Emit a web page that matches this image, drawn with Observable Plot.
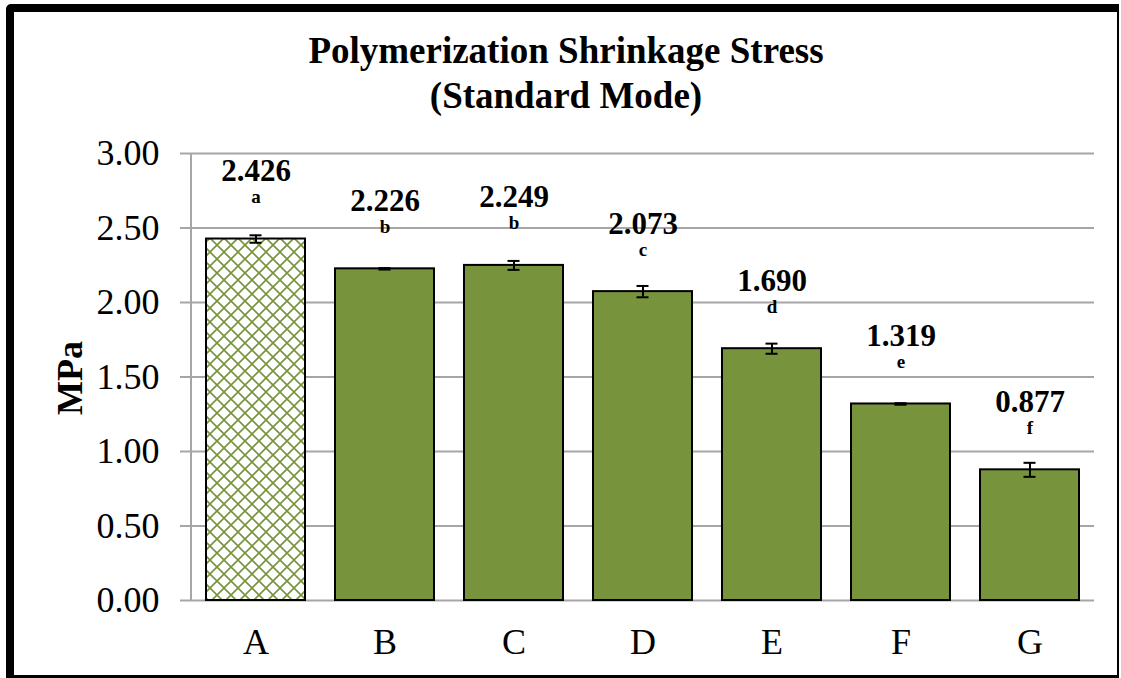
<!DOCTYPE html>
<html>
<head>
<meta charset="utf-8">
<script src="https://cdn.jsdelivr.net/npm/d3@7"></script>
<script src="https://cdn.jsdelivr.net/npm/@observablehq/plot@0.6"></script>
<style>
  html, body { margin: 0; padding: 0; background: #fff; }
  #wrap { position: relative; width: 1121px; height: 678px; overflow: hidden; font-family: "Liberation Serif", "Times New Roman", serif; }
  #chart { position: absolute; left: 0; top: 0; }
  #title { position: absolute; left: 0; top: 28px; width: 1132px; text-align: center; font-weight: bold; font-size: 37px; line-height: 45px; color: #000; }
  #ylabel { position: absolute; left: 70px; top: 378px; transform: translate(-50%, -50%) rotate(-90deg); font-weight: bold; font-size: 36px; white-space: nowrap; color: #000; }
  #border { position: absolute; left: 6px; top: 4px; width: 1113px; height: 674px; box-sizing: border-box; border-style: solid; border-color: #000; border-width: 8px 2px 3px 8px; border-radius: 5px 0 0 0; pointer-events: none; }
</style>
</head>
<body>
<div id="wrap">
  <div id="chart"></div>
  <div id="title">Polymerization Shrinkage Stress<br>(Standard Mode)</div>
  <div id="ylabel">MPa</div>
  <div id="border"></div>
</div>
<script>
const categories = ["A", "B", "C", "D", "E", "F", "G"];
const means = [2.426, 2.226, 2.249, 2.073, 1.690, 1.319, 0.877];
const errors = [0.025, 0.005, 0.03, 0.038, 0.034, 0.005, 0.047];
const groups = ["a", "b", "b", "c", "d", "e", "f"];
const yTicks = [0, 0.5, 1, 1.5, 2, 2.5, 3];

const data = categories.map((c, i) => ({cat: c, v: means[i], e: errors[i], g: groups[i]}));
const patterned = data.filter(d => d.cat === "A");
const solid = data.filter(d => d.cat !== "A");

const green = "#77933c";
const grid = "#a6a6a6";
const serif = "'Liberation Serif', 'Times New Roman', serif";

function defsMark() {
  const g = d3.create("svg:g");
  const p = g.append("defs").append("pattern")
    .attr("id", "lattice")
    .attr("patternUnits", "userSpaceOnUse")
    .attr("width", 14).attr("height", 14);
  p.append("rect").attr("width", 14).attr("height", 14).attr("fill", "#fff");
  p.append("path").attr("d", "M0,0L14,14M14,0L0,14")
    .attr("stroke", green).attr("stroke-width", 1.6).attr("fill", "none");
  return g.node();
}

function yAxisLine(index, scales, values, dimensions) {
  const g = d3.create("svg:g");
  g.append("line")
    .attr("x1", dimensions.marginLeft).attr("x2", dimensions.marginLeft)
    .attr("y1", scales.y(yTicks[0])).attr("y2", scales.y(yTicks[yTicks.length - 1]))
    .attr("stroke", grid).attr("stroke-width", 2);
  return g.node();
}

const chart = Plot.plot({
  width: 1121,
  height: 678,
  marginTop: 153,
  marginBottom: 78,
  marginLeft: 191,
  marginRight: 27,
  style: {fontFamily: serif, background: "transparent", color: "#000"},
  x: {domain: categories, paddingInner: 0.2326, paddingOuter: 0.1163, label: null},
  y: {domain: [0, 3], label: null},
  marks: [
    defsMark,
    Plot.ruleY(yTicks, {stroke: grid, strokeWidth: 2}),
    yAxisLine,
    Plot.barY(patterned, {x: "cat", y: "v", fill: "url(#lattice)", stroke: "#000", strokeWidth: 2}),
    Plot.barY(solid, {x: "cat", y: "v", fill: green, stroke: "#000", strokeWidth: 2}),
    Plot.ruleX(data, {x: "cat", y1: d => d.v - d.e, y2: d => d.v + d.e, stroke: "#000", strokeWidth: 2}),
    Plot.tickY(data, {x: "cat", y: d => d.v + d.e, stroke: "#000", strokeWidth: 2, insetLeft: 43.5, insetRight: 43.5}),
    Plot.tickY(data, {x: "cat", y: d => d.v - d.e, stroke: "#000", strokeWidth: 2, insetLeft: 43.5, insetRight: 43.5}),
    Plot.text(data, {x: "cat", y: "v", text: d => d.v.toFixed(3), dy: -68, fontSize: 31, fontWeight: "bold", fill: "#000"}),
    Plot.text(data, {x: "cat", y: "v", text: "g", dy: -42, fontSize: 19, fontWeight: "bold", fill: "#000"}),
    Plot.axisY({ticks: yTicks, tickFormat: d => d.toFixed(2), tickSize: 11, tickPadding: 21, fontSize: 36, stroke: grid, fill: "#000", label: null, strokeWidth: 2}),
    Plot.axisX({tickSize: 0, tickPadding: 28, fontSize: 36, fill: "#000", label: null})
  ]
});
document.getElementById("chart").appendChild(chart);
</script>
</body>
</html>
